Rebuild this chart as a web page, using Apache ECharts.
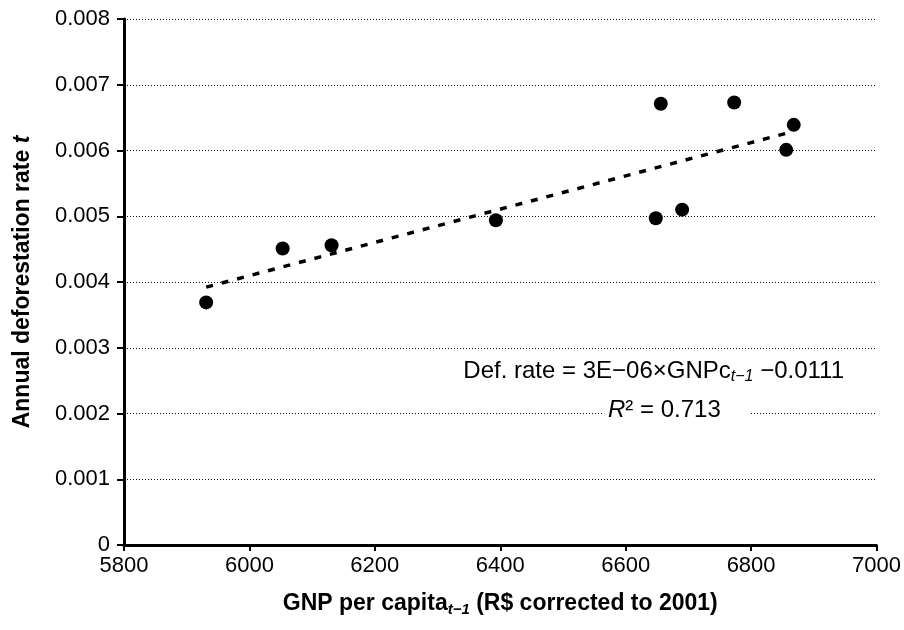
<!DOCTYPE html>
<html>
<head>
<meta charset="utf-8">
<script src="https://cdn.jsdelivr.net/npm/echarts@6/dist/echarts.min.js"></script>
<style>
  html, body { margin: 0; padding: 0; background: #fff; }
  #chart { width: 904px; height: 630px; }
</style>
</head>
<body>
<div id="chart"></div>
<script>
// GNP per capita (t-1) and annual deforestation rate
const gnp = [5931, 6053, 6131, 6393, 6648, 6690, 6656, 6773, 6856, 6868];
const defRate = [0.00369, 0.00451, 0.00456, 0.00494, 0.00497, 0.0051, 0.00671, 0.00673, 0.00601, 0.00639];
const xTicks = [5800, 6000, 6200, 6400, 6600, 6800, 7000];
const yTicks = [0, 0.001, 0.002, 0.003, 0.004, 0.005, 0.006, 0.007, 0.008];

const FONT = "'Liberation Sans', Arial, sans-serif";

// least squares trend line
const n = gnp.length;
const mx = gnp.reduce((a, b) => a + b, 0) / n;
const my = defRate.reduce((a, b) => a + b, 0) / n;
let sxy = 0, sxx = 0;
for (let i = 0; i < n; i++) {
  sxy += (gnp[i] - mx) * (defRate[i] - my);
  sxx += (gnp[i] - mx) * (gnp[i] - mx);
}
const slope = sxy / sxx;
const intercept = my - slope * mx;
const x0 = Math.min(...gnp), x1 = Math.max(...gnp);
const trend = [[x0, intercept + slope * x0], [x1, intercept + slope * x1]];

const chart = echarts.init(document.getElementById('chart'));
const option = {
  animation: false,
  backgroundColor: '#fff',
  grid: { left: 124, right: 24, top: 19, bottom: 85 },
  xAxis: {
    type: 'value',
    min: xTicks[0],
    max: xTicks[xTicks.length - 1],
    interval: 200,
    name: '{b|GNP per capita}{s|t\u22121}{b| (R$ corrected to 2001)}',
    nameLocation: 'middle',
    nameGap: 46,
    nameTextStyle: {
      rich: {
        b: { fontFamily: FONT, fontWeight: 'bold', fontSize: 23, color: '#000', lineHeight: 26 },
        s: { fontFamily: FONT, fontWeight: 'bold', fontStyle: 'italic', fontSize: 15, color: '#000', lineHeight: 15, padding: [12, 0, 0, 0] }
      }
    },
    axisLine: { onZero: false, lineStyle: { color: '#000', width: 3 } },
    axisTick: { show: true, length: 6, lineStyle: { color: '#000', width: 2 } },
    axisLabel: { fontFamily: FONT, fontSize: 22, color: '#000', margin: 10, formatter: v => String(v) },
    splitLine: { show: false }
  },
  yAxis: {
    type: 'value',
    min: yTicks[0],
    max: yTicks[yTicks.length - 1],
    interval: 0.001,
    name: '{b|Annual deforestation rate }{i|t}',
    nameLocation: 'middle',
    nameGap: 90,
    nameTextStyle: {
      rich: {
        b: { fontFamily: FONT, fontWeight: 'bold', fontSize: 23, color: '#000' },
        i: { fontFamily: FONT, fontWeight: 'bold', fontStyle: 'italic', fontSize: 23, color: '#000' }
      }
    },
    axisLine: { show: true, lineStyle: { color: '#000', width: 3 } },
    axisTick: { show: true, length: 7, lineStyle: { color: '#000', width: 2 } },
    axisLabel: { fontFamily: FONT, fontSize: 22, color: '#000', margin: 14 },
    splitLine: { show: true, lineStyle: { color: '#111', width: 1, type: [1, 2] } }
  },
  series: [
    {
      type: 'line',
      data: trend,
      symbol: 'none',
      lineStyle: { color: '#000', width: 3.5, type: [7, 9] },
      z: 2
    },
    {
      type: 'scatter',
      data: gnp.map((x, i) => [x, defRate[i]]),
      symbol: 'circle',
      symbolSize: 14,
      itemStyle: { color: '#000', opacity: 1 },
      z: 3
    }
  ],
  graphic: [
    {
      type: 'text',
      right: 904 - 844,
      top: 358,
      z: 10,
      style: {
        text: '{n|Def. rate = 3E\u221206\u00d7GNPc}{s|t\u22121}{n| \u22120.0111}',
        rich: {
          n: { fontFamily: FONT, fontSize: 24, fill: '#000', lineHeight: 27 },
          s: { fontFamily: FONT, fontStyle: 'italic', fontSize: 16, fill: '#000', lineHeight: 16, padding: [11, 0, 0, 0] }
        }
      }
    },
    {
      type: 'text',
      left: 604,
      top: 396,
      z: 10,
      style: {
        text: '{r|R}{n|\u00b2 = 0.713}',
        backgroundColor: '#fff',
        padding: [2, 30, 2, 4],
        rich: {
          r: { fontFamily: FONT, fontStyle: 'italic', fontSize: 24, fill: '#000' },
          n: { fontFamily: FONT, fontSize: 24, fill: '#000' }
        }
      }
    }
  ]
};
option && chart.setOption(option);
</script>
</body>
</html>
